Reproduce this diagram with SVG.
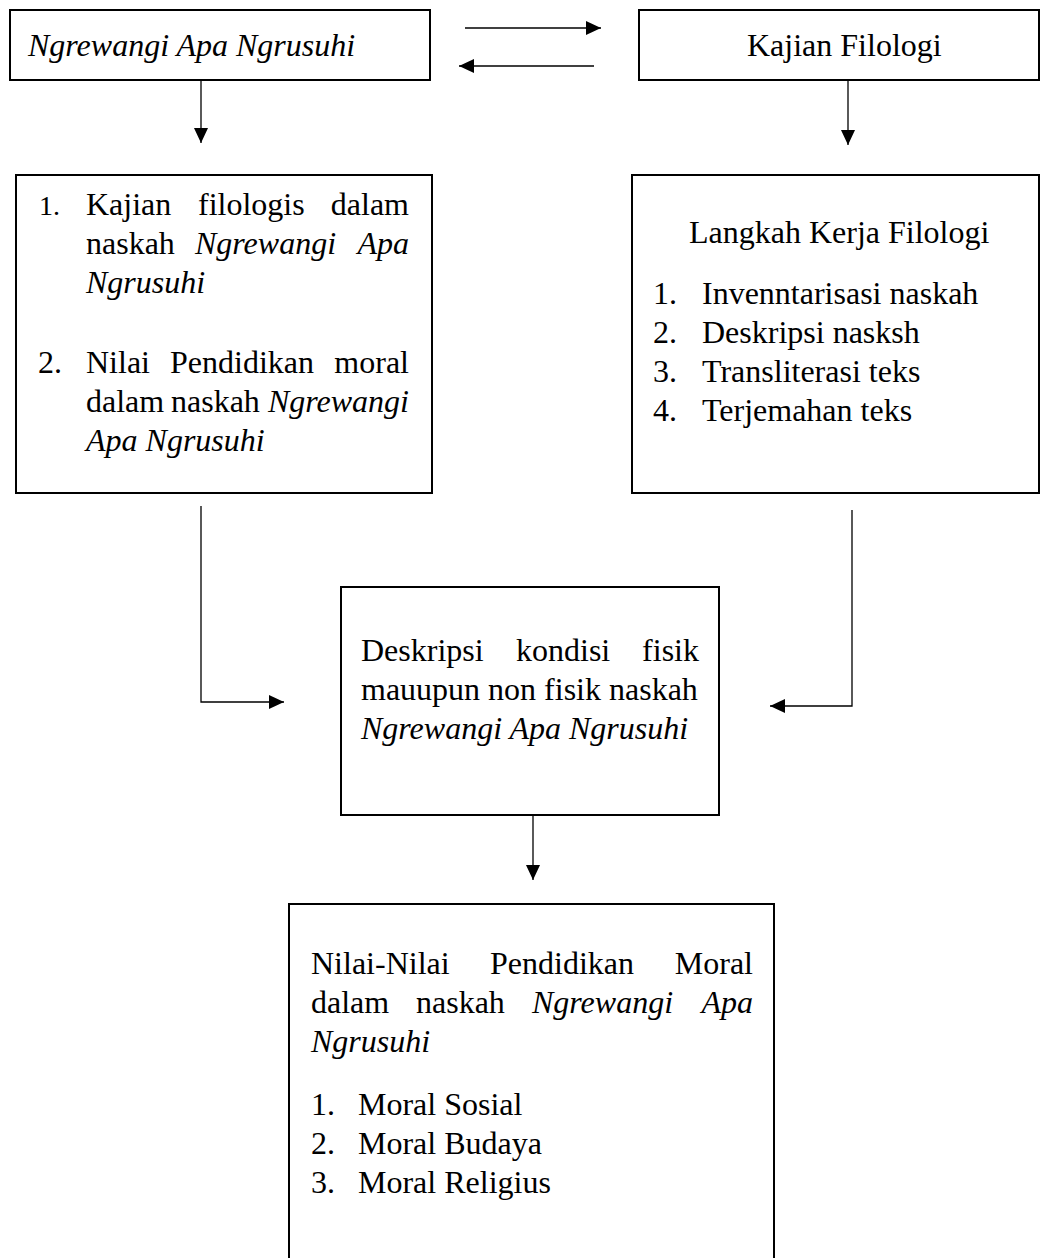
<svg xmlns="http://www.w3.org/2000/svg" width="1041" height="1258" viewBox="0 0 1041 1258">
<style>
.box{fill:#fff;stroke:#000;stroke-width:2}
.t{font-family:"Liberation Serif","Times New Roman",serif;font-size:32px;fill:#000}
.i{font-style:italic}
.e{text-anchor:end}
.c{fill:none;stroke:#000;stroke-width:1.3}
</style>
<defs>
<marker id="ah" markerUnits="userSpaceOnUse" markerWidth="16" markerHeight="15" refX="15" refY="7" orient="auto">
<path d="M0,0 L15,7 L0,14 z" fill="#000"/>
</marker>
</defs>
<rect width="1041" height="1258" fill="#fff"/>
<g id="connectors">
<path class="c" d="M465,28 L601,28" marker-end="url(#ah)"/>
<path class="c" d="M594,66 L459,66" marker-end="url(#ah)"/>
<path class="c" d="M201,80 L201,143" marker-end="url(#ah)"/>
<path class="c" d="M848,81 L848,145" marker-end="url(#ah)"/>
<path class="c" d="M201,506 L201,702 L284,702" marker-end="url(#ah)"/>
<path class="c" d="M852,510 L852,706 L770,706" marker-end="url(#ah)"/>
<path class="c" d="M533,815 L533,880" marker-end="url(#ah)"/>
</g>
<g id="node-ngrewangi">
<rect class="box" x="10" y="10" width="420" height="70"/>
<text class="t i" x="28" y="56">Ngrewangi Apa Ngrusuhi</text>
</g>
<g id="node-kajian">
<rect class="box" x="639" y="10" width="400" height="70"/>
<text class="t" x="747" y="56">Kajian Filologi</text>
</g>
<g id="node-left-list">
<rect class="box" x="16" y="175" width="416" height="318"/>
<text class="t" x="39" y="215" style="font-size:28px">1.</text>
<text class="t" x="86" y="215">Kajian</text>
<text class="t" x="198" y="215">filologis</text>
<text class="t e" x="409" y="215">dalam</text>
<text class="t" x="86" y="254">naskah</text>
<text class="t i" x="195" y="254">Ngrewangi</text>
<text class="t i e" x="409" y="254">Apa</text>
<text class="t i" x="86" y="293">Ngrusuhi</text>
<text class="t" x="38" y="373">2.</text>
<text class="t" x="86" y="373">Nilai</text>
<text class="t" x="170" y="373">Pendidikan</text>
<text class="t e" x="409" y="373">moral</text>
<text class="t" x="86" y="412">dalam</text>
<text class="t" x="171" y="412">naskah</text>
<text class="t i e" x="409" y="412">Ngrewangi</text>
<text class="t i" x="86" y="451">Apa Ngrusuhi</text>
</g>
<g id="node-langkah">
<rect class="box" x="632" y="175" width="407" height="318"/>
<text class="t" x="689" y="243">Langkah Kerja Filologi</text>
<text class="t" x="653" y="304">1.</text><text class="t" x="702" y="304">Invenntarisasi naskah</text>
<text class="t" x="653" y="343">2.</text><text class="t" x="702" y="343">Deskripsi nasksh</text>
<text class="t" x="653" y="382">3.</text><text class="t" x="702" y="382">Transliterasi teks</text>
<text class="t" x="653" y="421">4.</text><text class="t" x="702" y="421">Terjemahan teks</text>
</g>
<g id="node-deskripsi">
<rect class="box" x="341" y="587" width="378" height="228"/>
<text class="t" x="361" y="661">Deskripsi</text>
<text class="t" x="516" y="661">kondisi</text>
<text class="t e" x="699" y="661">fisik</text>
<text class="t" x="361" y="700">mauupun non fisik naskah</text>
<text class="t i" x="361" y="739">Ngrewangi Apa Ngrusuhi</text>
</g>
<g id="node-nilai">
<rect class="box" x="289" y="904" width="485" height="370"/>
<text class="t" x="311" y="974">Nilai-Nilai</text>
<text class="t" x="490" y="974">Pendidikan</text>
<text class="t e" x="753" y="974">Moral</text>
<text class="t" x="311" y="1013">dalam</text>
<text class="t" x="416" y="1013">naskah</text>
<text class="t i" x="532" y="1013">Ngrewangi</text>
<text class="t i e" x="753" y="1013">Apa</text>
<text class="t i" x="311" y="1052">Ngrusuhi</text>
<text class="t" x="311" y="1115">1.</text><text class="t" x="358" y="1115">Moral Sosial</text>
<text class="t" x="311" y="1154">2.</text><text class="t" x="358" y="1154">Moral Budaya</text>
<text class="t" x="311" y="1193">3.</text><text class="t" x="358" y="1193">Moral Religius</text>
</g>
</svg>
